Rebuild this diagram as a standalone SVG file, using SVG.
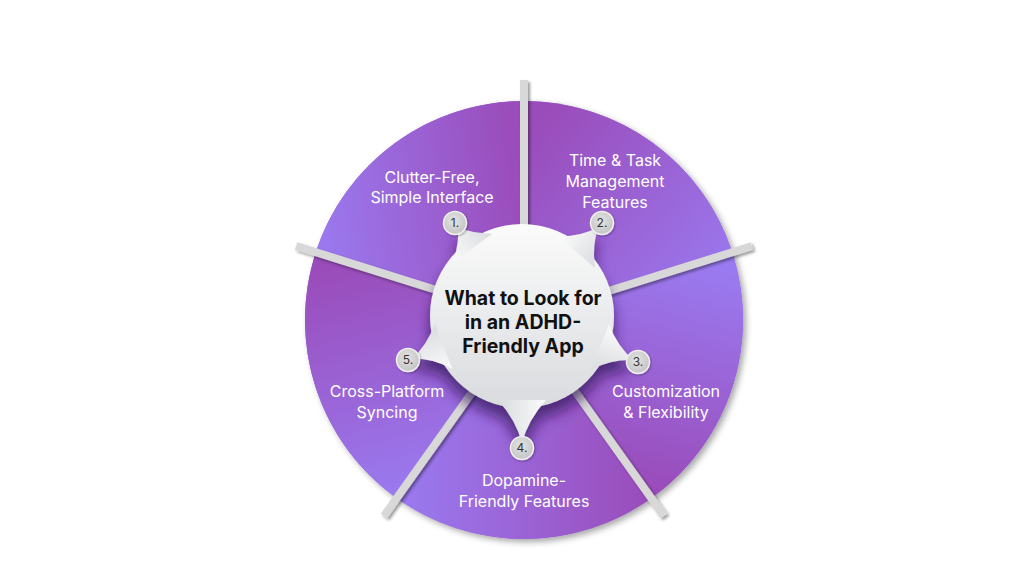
<svg xmlns="http://www.w3.org/2000/svg" width="1024" height="585" viewBox="0 0 1024 585">
  <defs>
    <style>
      .lbl { font-family: Inter, "Noto Sans", "Liberation Sans", sans-serif; font-size: 16px; fill: #ffffff; text-anchor: middle; }
      .ttl { font-family: Inter, "Noto Sans", "Liberation Sans", sans-serif; font-size: 19.5px; font-weight: 700; fill: #111111; text-anchor: middle; }
      .num { font-family: Inter, "Noto Sans", "Liberation Sans", sans-serif; font-size: 12px; fill: #333333; text-anchor: middle; }
      .div { stroke: #d8d8d8; stroke-width: 8; stroke-linecap: butt; fill: none; }
      .badge { fill: url(#gBadge); stroke: #f0f0f0; stroke-width: 1.5; }
    </style>
    <linearGradient id="g1" gradientUnits="userSpaceOnUse" x1="310" y1="200" x2="520" y2="170">
      <stop offset="0" stop-color="#9a7af0"/><stop offset="1" stop-color="#9a4cba"/>
    </linearGradient>
    <linearGradient id="g2" gradientUnits="userSpaceOnUse" x1="540" y1="120" x2="730" y2="290">
      <stop offset="0" stop-color="#9a4cba"/><stop offset="1" stop-color="#9a7af0"/>
    </linearGradient>
    <linearGradient id="g3" gradientUnits="userSpaceOnUse" x1="720" y1="270" x2="660" y2="490">
      <stop offset="0" stop-color="#9a7af0"/><stop offset="1" stop-color="#9a4cba"/>
    </linearGradient>
    <linearGradient id="g4" gradientUnits="userSpaceOnUse" x1="400" y1="500" x2="650" y2="500">
      <stop offset="0" stop-color="#9a7af0"/><stop offset="1" stop-color="#9a4cba"/>
    </linearGradient>
    <linearGradient id="g5" gradientUnits="userSpaceOnUse" x1="320" y1="270" x2="380" y2="500">
      <stop offset="0" stop-color="#9a4cba"/><stop offset="1" stop-color="#9a7af0"/>
    </linearGradient>
    <linearGradient id="gInner" x1="0" y1="0" x2="0" y2="1">
      <stop offset="0" stop-color="#fbfbfb"/><stop offset="1" stop-color="#d9dbde"/>
    </linearGradient>
    <radialGradient id="gBadge" cx="0.45" cy="0.4" r="0.6">
      <stop offset="0" stop-color="#e4e4e4"/><stop offset="1" stop-color="#c4c4c4"/>
    </radialGradient>
    <filter id="fBig" x="-10%" y="-10%" width="125%" height="125%">
      <feDropShadow dx="3" dy="3" stdDeviation="3" flood-color="#000" flood-opacity="0.35"/>
    </filter>
    <filter id="fDiv" x="-10%" y="-10%" width="130%" height="130%">
      <feDropShadow dx="2" dy="2" stdDeviation="1.5" flood-color="#000" flood-opacity="0.4"/>
    </filter>
    <filter id="fInner" x="-30%" y="-30%" width="160%" height="170%">
      <feDropShadow dx="0" dy="12" stdDeviation="7" flood-color="#2e1255" flood-opacity="0.7"/>
    </filter>
    <filter id="fBadge" x="-40%" y="-40%" width="180%" height="180%">
      <feDropShadow dx="1" dy="1" stdDeviation="1" flood-color="#000" flood-opacity="0.3"/>
    </filter>
  </defs>

  <rect width="1024" height="585" fill="#ffffff"/>

  <g id="wheel">
    <circle cx="524" cy="320" r="219" fill="#9a60d8" filter="url(#fBig)"/>
    <path id="sector1" d="M524,320 L315.7,252.3 A219,219 0 0 1 524,101 Z" fill="url(#g1)"/>
    <path id="sector2" d="M524,320 L524,101 A219,219 0 0 1 732.3,252.3 Z" fill="url(#g2)"/>
    <path id="sector3" d="M524,320 L732.3,252.3 A219,219 0 0 1 652.7,497.2 Z" fill="url(#g3)"/>
    <path id="sector4" d="M524,320 L652.7,497.2 A219,219 0 0 1 395.3,497.2 Z" fill="url(#g4)"/>
    <path id="sector5" d="M524,320 L395.3,497.2 A219,219 0 0 1 315.7,252.3 Z" fill="url(#g5)"/>
  </g>

  <g id="connectors" filter="url(#fDiv)">
    <line class="div" x1="524" y1="260" x2="524" y2="80"/>
    <line class="div" x1="580" y1="300" x2="752" y2="246"/>
    <line class="div" x1="560" y1="370" x2="664" y2="516"/>
    <line class="div" x1="488" y1="370" x2="384" y2="516"/>
    <line class="div" x1="468" y1="300" x2="296" y2="246"/>
  </g>

  <g id="hub" filter="url(#fInner)">
    <g fill="url(#gInner)">
      <circle cx="522" cy="316" r="92"/>
      <path transform="translate(522,316) rotate(-125.8)" d="M84,-24 Q98,-6 110,0 Q98,6 84,24 Z"/>
      <path transform="translate(522,316) rotate(-49.3)" d="M84,-24 Q100,-6 118,0 Q100,6 84,24 Z"/>
      <path transform="translate(522,316) rotate(21.6)" d="M84,-24 Q101,-6 120,0 Q101,6 84,24 Z"/>
      <path transform="translate(522,316) rotate(90)" d="M84,-24 Q104,-6 127,0 Q104,6 84,24 Z"/>
      <path transform="translate(522,316) rotate(158.9)" d="M84,-24 Q100,-6 118,0 Q100,6 84,24 Z"/>
    </g>
  </g>
  <g id="title">
    <text class="ttl" x="523" y="305">What to Look for</text>
    <text class="ttl" x="523" y="329">in an ADHD-</text>
    <text class="ttl" x="523" y="353">Friendly App</text>
  </g>

  <g id="node1">
    <circle class="badge" cx="455" cy="223" r="11.5" filter="url(#fBadge)"/>
    <text class="num" x="455" y="227">1.</text>
    <text class="lbl" x="432" y="183">Clutter-Free,</text>
    <text class="lbl" x="432" y="203">Simple Interface</text>
  </g>
  <g id="node2">
    <circle class="badge" cx="602" cy="223" r="11.5" filter="url(#fBadge)"/>
    <text class="num" x="602" y="227">2.</text>
    <text class="lbl" x="615" y="166">Time &amp; Task</text>
    <text class="lbl" x="615" y="187">Management</text>
    <text class="lbl" x="615" y="208">Features</text>
  </g>
  <g id="node3">
    <circle class="badge" cx="638" cy="362" r="11.5" filter="url(#fBadge)"/>
    <text class="num" x="638" y="366">3.</text>
    <text class="lbl" x="666" y="397">Customization</text>
    <text class="lbl" x="666" y="418">&amp; Flexibility</text>
  </g>
  <g id="node4">
    <circle class="badge" cx="522" cy="448" r="11.5" filter="url(#fBadge)"/>
    <text class="num" x="522" y="452">4.</text>
    <text class="lbl" x="524" y="486">Dopamine-</text>
    <text class="lbl" x="524" y="507">Friendly Features</text>
  </g>
  <g id="node5">
    <circle class="badge" cx="408" cy="360" r="11.5" filter="url(#fBadge)"/>
    <text class="num" x="408" y="364">5.</text>
    <text class="lbl" x="387" y="397">Cross-Platform</text>
    <text class="lbl" x="387" y="418">Syncing</text>
  </g>
</svg>
